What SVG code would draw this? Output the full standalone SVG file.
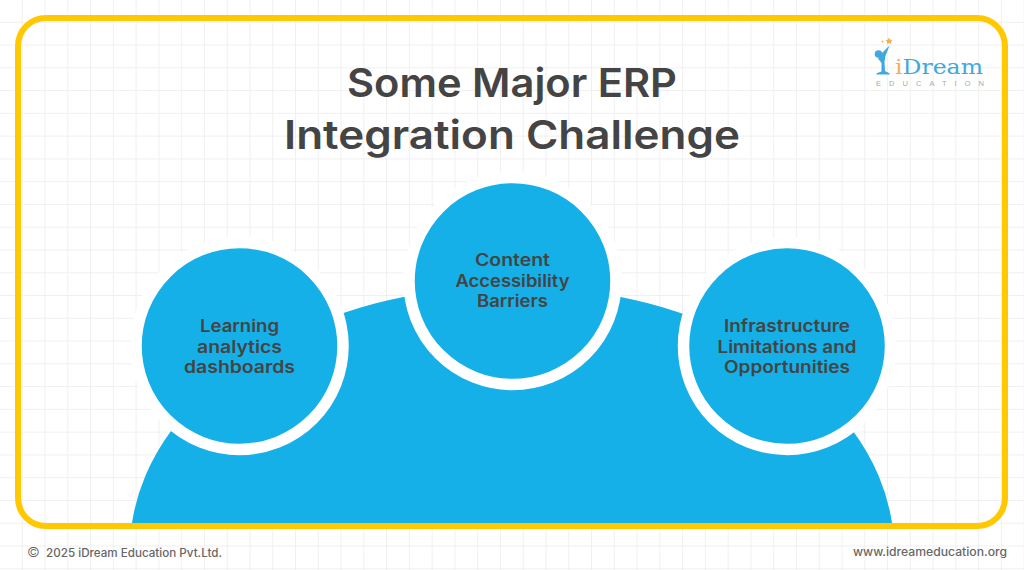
<svg xmlns="http://www.w3.org/2000/svg" width="1024" height="570" viewBox="0 0 1024 570">
<style>
.t{font-family:Inter,"Liberation Sans",sans-serif;font-weight:600;fill:#444;text-anchor:middle}
.title{font-size:39.5px}
.lab{font-size:17px}
.foot{font-family:Inter,"Liberation Sans",sans-serif;font-weight:500;font-size:11.5px;fill:#666}
.ring{fill:#15b0e8;stroke:#fff;stroke-width:11.5}
</style>
<defs>
<pattern id="grid" width="22.77" height="22.77" patternUnits="userSpaceOnUse">
<path d="M22.27 0V22.77M0 22.27H22.77" fill="none" stroke="#f0f0f0" stroke-width="1"/>
</pattern>
</defs>
<rect width="1024" height="570" fill="#fff"/>
<rect width="1024" height="570" fill="url(#grid)"/>
<path id="base" d="M132 523A382 264 0 0 1 892 523Z" fill="#15b0e8"/>
<rect id="frame" x="18" y="18" width="987" height="508" rx="28" fill="none" stroke="#ffc800" stroke-width="6"/>
<text class="t title" x="512" y="97" textLength="330" lengthAdjust="spacingAndGlyphs">Some Major ERP</text>
<text class="t title" x="512" y="149" textLength="456" lengthAdjust="spacingAndGlyphs">Integration Challenge</text>
<g id="node-left">
<circle class="ring" cx="239.5" cy="346" r="103.5"/>
<text class="t lab" x="239.5" y="332" textLength="79" lengthAdjust="spacingAndGlyphs">Learning</text>
<text class="t lab" x="239.5" y="352.5" textLength="85" lengthAdjust="spacingAndGlyphs">analytics</text>
<text class="t lab" x="239.5" y="373" textLength="111" lengthAdjust="spacingAndGlyphs">dashboards</text>
</g>
<g id="node-center">
<circle class="ring" cx="512.5" cy="281" r="103.5"/>
<text class="t lab" x="512.5" y="266" textLength="75" lengthAdjust="spacingAndGlyphs">Content</text>
<text class="t lab" x="512.5" y="286.5" textLength="114" lengthAdjust="spacingAndGlyphs">Accessibility</text>
<text class="t lab" x="512.5" y="307" textLength="71" lengthAdjust="spacingAndGlyphs">Barriers</text>
</g>
<g id="node-right">
<circle class="ring" cx="787" cy="346" r="103.5"/>
<text class="t lab" x="787" y="332" textLength="126" lengthAdjust="spacingAndGlyphs">Infrastructure</text>
<text class="t lab" x="787" y="352.5" textLength="139" lengthAdjust="spacingAndGlyphs">Limitations and</text>
<text class="t lab" x="787" y="373" textLength="126" lengthAdjust="spacingAndGlyphs">Opportunities</text>
</g>
<g id="logo">
<path d="M889 37.5l1.1 2.2 2.4.3-1.7 1.7.4 2.4-2.2-1.1-2.2 1.1.4-2.4-1.7-1.7 2.4-.3z" fill="#f6ad55"/>
<circle cx="882.5" cy="41.5" r="1" fill="#f6ad55"/>
<circle cx="878.5" cy="54" r="3.8" fill="#3fa9dd"/>
<path d="M889.5 45.5L885.5 56L884.5 62L885 71L889.5 73.2V74.5H876.5V73.2L881.5 71.5L881.5 63L878 58.5L882.5 52.5Z" fill="#3fa9dd"/>
<text x="895" y="74" font-family="'DejaVu Serif',serif" font-size="20.5" fill="#3fa9dd" textLength="88" lengthAdjust="spacingAndGlyphs"><tspan fill="#f6ad55">i</tspan>Dream</text>
<text x="876" y="85.5" font-family="'Liberation Sans',sans-serif" font-size="7.5" fill="#aaa" textLength="108">EDUCATION</text>
</g>
<text class="foot" x="27" y="557"><tspan font-size="14" font-weight="300">©</tspan><tspan x="43" textLength="179" lengthAdjust="spacingAndGlyphs"> 2025 iDream Education Pvt.Ltd.</tspan></text>
<text class="foot" x="853" y="556" textLength="154" lengthAdjust="spacingAndGlyphs">www.idreameducation.org</text>
</svg>
